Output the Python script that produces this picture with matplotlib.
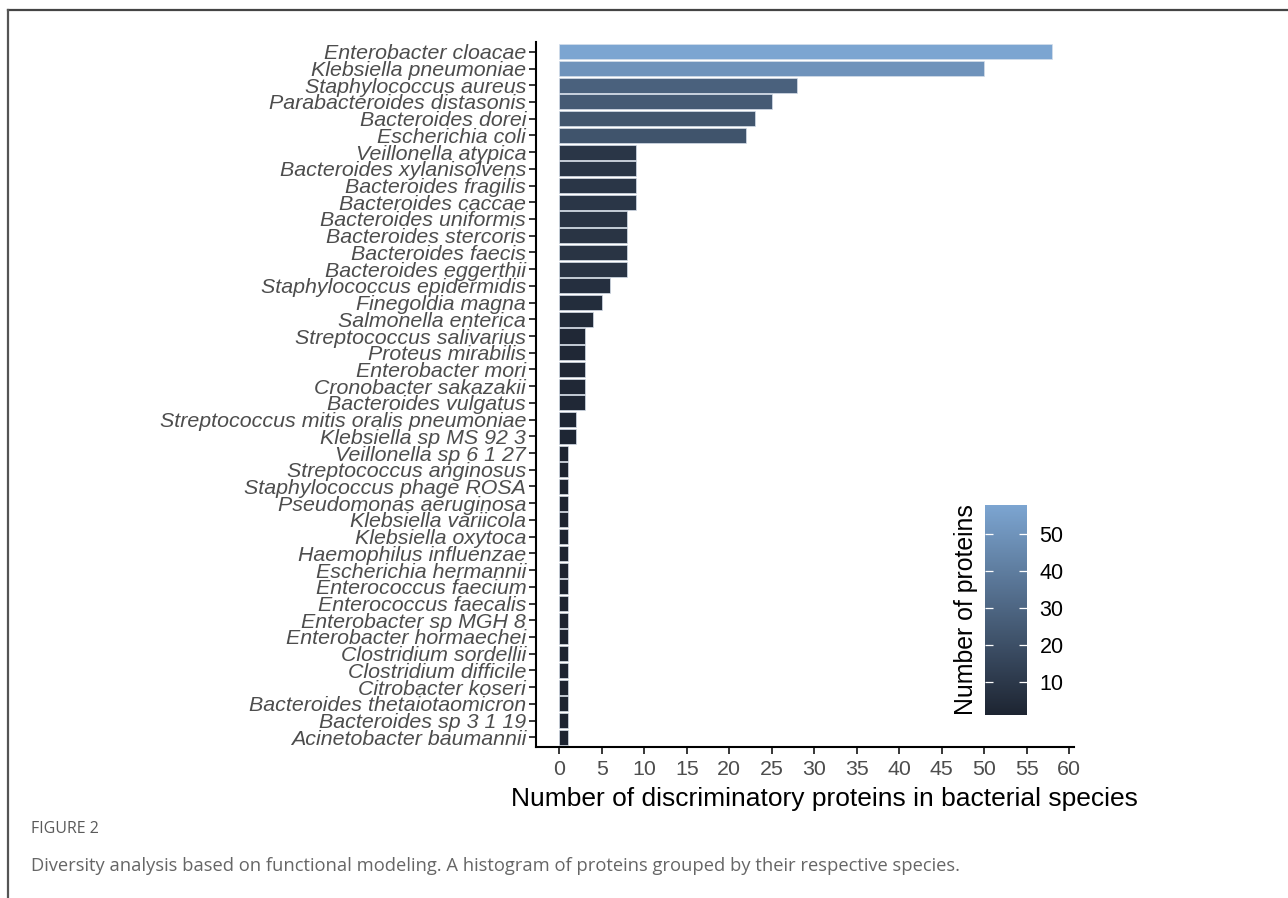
import numpy as np
import matplotlib
matplotlib.use("Agg")
from matplotlib import pyplot as plt
from matplotlib.colors import LinearSegmentedColormap, Normalize
from matplotlib.lines import Line2D

species = [
    "Enterobacter cloacae", "Klebsiella pneumoniae", "Staphylococcus aureus",
    "Parabacteroides distasonis", "Bacteroides dorei", "Escherichia coli",
    "Veillonella atypica", "Bacteroides xylanisolvens", "Bacteroides fragilis",
    "Bacteroides caccae", "Bacteroides uniformis", "Bacteroides stercoris",
    "Bacteroides faecis", "Bacteroides eggerthii", "Staphylococcus epidermidis",
    "Finegoldia magna", "Salmonella enterica", "Streptococcus salivarius",
    "Proteus mirabilis", "Enterobacter mori", "Cronobacter sakazakii",
    "Bacteroides vulgatus", "Streptococcus mitis oralis pneumoniae",
    "Klebsiella sp MS 92 3", "Veillonella sp 6 1 27", "Streptococcus anginosus",
    "Staphylococcus phage ROSA", "Pseudomonas aeruginosa", "Klebsiella variicola",
    "Klebsiella oxytoca", "Haemophilus influenzae", "Escherichia hermannii",
    "Enterococcus faecium", "Enterococcus faecalis", "Enterobacter sp MGH 8",
    "Enterobacter hormaechei", "Clostridium sordellii", "Clostridium difficile",
    "Citrobacter koseri", "Bacteroides thetaiotaomicron", "Bacteroides sp 3 1 19",
    "Acinetobacter baumannii",
]
n_proteins = [58, 50, 28, 25, 23, 22, 9, 9, 9, 9, 8, 8, 8, 8, 6, 5, 4,
              3, 3, 3, 3, 3, 2, 2,
              1, 1, 1, 1, 1, 1, 1, 1, 1, 1, 1, 1, 1, 1, 1, 1, 1, 1]
x_ticks = list(range(0, 61, 5))
cbar_ticks = [10, 20, 30, 40, 50]

plt.rcParams["font.family"] = ["Liberation Sans", "DejaVu Sans"]

fig = plt.figure(figsize=(12.88, 8.98), dpi=100)

cmap = LinearSegmentedColormap.from_list("prot", ["#1d2431", "#7ca5d1"])
norm = Normalize(vmin=min(n_proteins), vmax=max(n_proteins))

ax = fig.add_axes([0.4161, 0.1678, 0.4181, 0.7857])
ypos = np.arange(len(species))[::-1]
ax.barh(ypos, n_proteins, height=0.9, color=cmap(norm(np.array(n_proteins))),
        edgecolor="#d5deea", linewidth=0.5)

ax.set_xlim(-2.75, 60.6)
ax.set_ylim(-0.6, len(species) - 0.4)
ax.set_yticks(ypos)
ax.set_yticklabels(species, fontsize=15.4, style="italic", color="#4d4d4d")
ax.set_xticks(x_ticks)
ax.set_xticklabels([str(t) for t in x_ticks], fontsize=15.4, color="#4d4d4d")
ax.tick_params(axis="both", length=5, width=1.1, color="black")
ax.tick_params(axis="y", pad=2)
ax.tick_params(axis="x", pad=4)
for side in ["top", "right"]:
    ax.spines[side].set_visible(False)
for side in ["left", "bottom"]:
    ax.spines[side].set_linewidth(1.5)
ax.set_xlabel("Number of discriminatory proteins in bacterial species",
              fontsize=19, color="black", labelpad=6)
ax.xaxis.label.set_x(0.535)

# colour scale legend
cax = fig.add_axes([0.7648, 0.2038, 0.0326, 0.2339])
sm = plt.cm.ScalarMappable(norm=norm, cmap=cmap)
cbar = fig.colorbar(sm, cax=cax, ticks=cbar_ticks)
cbar.outline.set_visible(False)
cax.tick_params(which="both", direction="in", color="white", length=6,
                width=0.9, left=True, right=True, labelleft=False,
                labelright=True, labelsize=15.5, pad=9)
cax.minorticks_off()
cax.yaxis.set_label_position("left")
cax.set_ylabel("Number of proteins", fontsize=17.9, labelpad=5)

# caption and frame
fig.text(0.024, 0.077, "FIGURE 2", fontsize=11.5, color="#5a5a5a",
         family=["Open Sans", "DejaVu Sans"], va="center")
fig.text(0.024, 0.036,
         "Diversity analysis based on functional modeling. A histogram of "
         "proteins grouped by their respective species.",
         fontsize=13.2, color="#666666", family=["Open Sans", "DejaVu Sans"],
         va="center")
fig.add_artist(Line2D([0.0062, 1.0], [0.9889, 0.9889], color="#444444",
                      lw=1.6, transform=fig.transFigure))
fig.add_artist(Line2D([0.0062, 0.0062], [0.0, 0.9889], color="#555555",
                      lw=1.6, transform=fig.transFigure))

fig.savefig("out.png", dpi=100, facecolor="white")
